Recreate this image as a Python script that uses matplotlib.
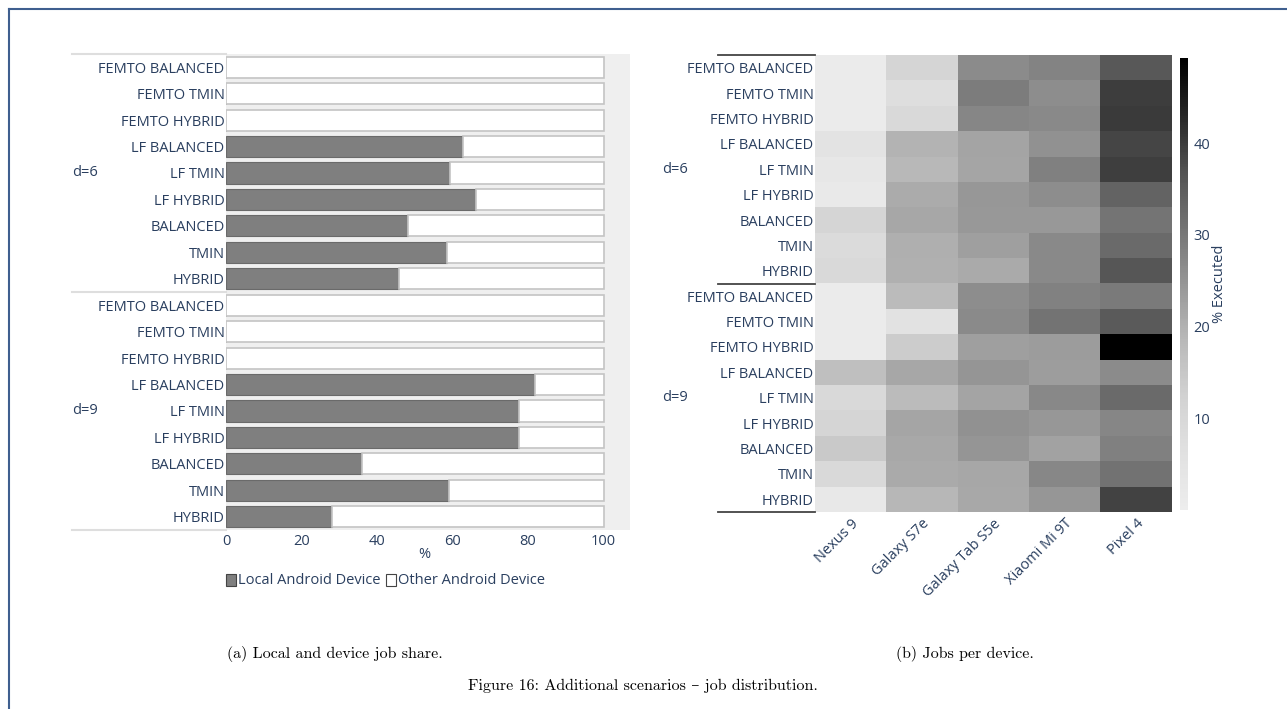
import numpy as np
import matplotlib
matplotlib.use("Agg")
import matplotlib.pyplot as plt
from matplotlib.colors import LinearSegmentedColormap
from matplotlib.lines import Line2D

# row labels (top to bottom inside each group)
scenarios = ["FEMTO BALANCED", "FEMTO TMIN", "FEMTO HYBRID", "LF BALANCED",
             "LF TMIN", "LF HYBRID", "BALANCED", "TMIN", "HYBRID"]
groups = ["d=6", "d=9"]
devices = ["Nexus 9", "Galaxy S7e", "Galaxy Tab S5e", "Xiaomi Mi 9T", "Pixel 4"]

# share of jobs on the local android device (%)
local_d6 = [0, 0, 0, 62.9, 59.4, 66.3, 48.1, 58.5, 45.9]
local_d9 = [0, 0, 0, 81.8, 77.5, 77.6, 36.1, 59.0, 28.0]

# % executed per device, rows = scenarios, cols = devices
exec_d6 = [
    [0.8, 11.0, 26.5, 27.8, 35.8],
    [0.8, 7.3, 29.1, 26.0, 39.8],
    [1.0, 9.4, 27.4, 26.9, 40.1],
    [5.0, 19.6, 22.1, 25.6, 38.7],
    [3.0, 18.5, 21.8, 28.4, 39.6],
    [1.6, 20.8, 24.4, 26.0, 33.6],
    [11.0, 21.6, 24.2, 24.1, 30.6],
    [8.3, 20.2, 23.0, 26.9, 32.4],
    [9.4, 19.9, 21.1, 26.9, 36.2],
]
exec_d9 = [
    [0.8, 18.0, 26.0, 28.2, 29.6],
    [0.8, 5.5, 26.7, 30.8, 35.4],
    [1.0, 13.8, 23.0, 23.5, 49.3],
    [16.8, 21.6, 24.8, 23.4, 26.5],
    [9.4, 17.8, 22.1, 27.0, 32.4],
    [11.0, 21.8, 25.6, 24.4, 27.4],
    [14.3, 21.5, 24.8, 22.4, 28.4],
    [9.4, 21.1, 21.6, 27.2, 31.0],
    [2.5, 18.7, 21.5, 24.6, 39.0],
]

TXT = "#2a3f5f"
FS = 10.5
plt.rcParams['font.family'] = ['Open Sans', 'DejaVu Sans']
plt.rcParams['font.size'] = FS

W, H = 1287, 709
fig = plt.figure(figsize=(W / 100, H / 100), dpi=100)


def box(x0, y0, x1, y1):
    # pixel box (top-left origin) -> figure fraction
    return [x0 / W, 1 - y1 / H, (x1 - x0) / W, (y1 - y0) / H]


labels = scenarios + scenarios
n = len(labels)
ypos = np.arange(n)

# ---- (a) stacked bars ----
ax1 = fig.add_axes(box(226, 54, 630, 530))
ax1.set_facecolor("#efefef")
local = np.array(local_d6 + local_d9)
other = 100 - local
ax1.barh(ypos, local, height=0.8, color="#7f7f7f", edgecolor="#6a6a6a", linewidth=0.8)
ax1.barh(ypos, other, left=local, height=0.8, color="white", edgecolor="#c4c4c4", linewidth=1.2)
ax1.set_xlim(0, 107)
ax1.set_ylim(n - 0.5, -0.5)
ax1.set_xticks([0, 20, 40, 60, 80, 100])
ax1.set_yticks(ypos)
ax1.set_yticklabels(labels)
ax1.tick_params(length=0, colors=TXT, labelsize=FS, pad=1)
ax1.tick_params(axis='x', pad=3)
for s in ax1.spines.values():
    s.set_visible(False)
ax1.text(52.5, -0.036, "%", transform=ax1.get_xaxis_transform(), ha="center",
         va="top", color=TXT, fontsize=FS)
tr = ax1.get_yaxis_transform()
for yy in [-0.5, 8.5, 17.5]:
    ax1.add_line(Line2D([-0.381, 0], [yy, yy], transform=tr, color="#dedede",
                        lw=1.5, clip_on=False))
for g, yc in zip(groups, [4, 13]):
    ax1.text(-0.381, yc, g, transform=tr, ha="left", va="center", color=TXT, fontsize=FS)

# legend
fig.patches.append(plt.Rectangle((226 / W, 1 - 586 / H), 10 / W, 12 / H,
                                 facecolor="#7f7f7f", edgecolor="#444444", lw=0.8,
                                 transform=fig.transFigure))
fig.text(238 / W, 1 - 580 / H, "Local Android Device", color=TXT, fontsize=FS,
         va="center", ha="left")
fig.patches.append(plt.Rectangle((386 / W, 1 - 586 / H), 10 / W, 12 / H,
                                 facecolor="white", edgecolor="#444444", lw=0.8,
                                 transform=fig.transFigure))
fig.text(398 / W, 1 - 580 / H, "Other Android Device", color=TXT, fontsize=FS,
         va="center", ha="left")

# ---- (b) heatmap ----
cmap = LinearSegmentedColormap.from_list(
    "greys_pl",
    [(0, "#ededed"), (0.125, "#e1e1e1"), (0.25, "#d2d2d2"), (0.375, "#b9b9b9"),
     (0.5, "#969696"), (0.625, "#737373"), (0.75, "#525252"), (0.875, "#252525"),
     (1, "#000000")])
data = np.array(exec_d6 + exec_d9)
ax2 = fig.add_axes(box(815, 55, 1172, 512))
im = ax2.imshow(data, aspect="auto", cmap=cmap, vmin=0, vmax=49.3, interpolation="nearest")
ax2.set_yticks(ypos)
ax2.set_yticklabels(labels)
ax2.set_xticks(np.arange(len(devices)))
ax2.set_xticklabels(devices, rotation=45, ha="right", va="top", rotation_mode="anchor")
ax2.tick_params(length=0, colors=TXT, labelsize=FS, pad=1)
ax2.tick_params(axis='x', pad=3)
for s in ax2.spines.values():
    s.set_visible(False)
tr2 = ax2.get_yaxis_transform()
for yy in [-0.5, 8.5, 17.5]:
    ax2.add_line(Line2D([-0.272, 0], [yy, yy], transform=tr2, color="#444444",
                        lw=1.3, clip_on=False))
for g, yc in zip(groups, [4, 13]):
    ax2.text(-0.428, yc, g, transform=tr2, ha="left", va="center", color=TXT, fontsize=FS)

cax = fig.add_axes(box(1180, 58, 1188, 510))
cb = fig.colorbar(im, cax=cax, ticks=[10, 20, 30, 40])
cb.outline.set_visible(False)
cax.tick_params(length=0, colors=TXT, labelsize=FS, pad=4)
cax.text(4.9, 0.5, "% Executed", transform=cax.transAxes, rotation=90, ha="center",
         va="center", color=TXT, fontsize=FS)

# ---- captions and frame ----
cap = dict(family=['cmr10', 'DejaVu Serif'], fontsize=11.5, color="black", ha="center", va="center")
fig.text(335 / W, 1 - 654 / H, "(a) Local and device job share.", **cap)
fig.text(965 / W, 1 - 654 / H, "(b) Jobs per device.", **cap)
fig.text(643 / W, 1 - 686 / H, "Figure 16: Additional scenarios \u2013 job distribution.", **cap)

fc = "#3f5f8f"
fig.add_artist(Line2D([9 / W, 9 / W], [1 - 9 / H, 0], transform=fig.transFigure, color=fc, lw=1.5))
fig.add_artist(Line2D([9 / W, 1], [1 - 9 / H, 1 - 9 / H], transform=fig.transFigure, color=fc, lw=1.5))

fig.savefig("out.png", dpi=100, facecolor="white")
